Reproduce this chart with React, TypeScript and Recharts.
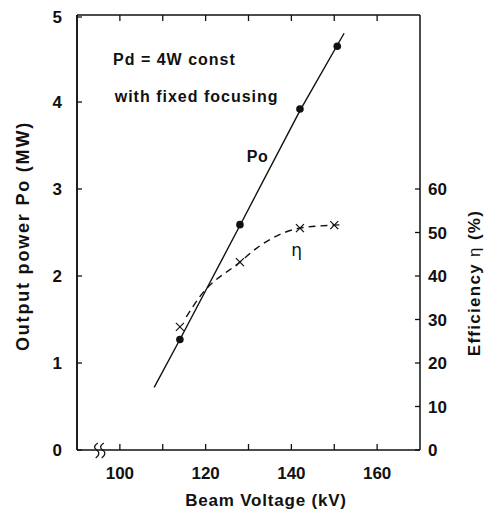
import React from 'react';
import { ComposedChart, XAxis, YAxis, Line, Scatter, ReferenceDot } from 'recharts';

const X_MIN = 90;
const X_MAX = 170;
const P_MAX = 5;
const xTicks = [100, 110, 120, 130, 140, 150, 160];
const xLabelTicks = [100, 120, 140, 160];
const powerTicks = [0, 1, 2, 3, 4, 5];
const effTicks = [0, 10, 20, 30, 40, 50, 60];

// Measured output power Po (MW)
const poPoints = [
  { x: 114, y: 1.27 },
  { x: 128, y: 2.59 },
  { x: 142, y: 3.92 },
  { x: 150.7, y: 4.64 },
];
// Drawn Po line
const poLine = [
  { x: 108, y: 0.72 },
  { x: 114, y: 1.27 },
  { x: 128, y: 2.58 },
  { x: 142, y: 3.9 },
  { x: 152.3, y: 4.79 },
];
// Measured efficiency (%)
const effPoints = [
  { x: 114, y: 28.3 },
  { x: 128, y: 43.2 },
  { x: 142, y: 51.0 },
  { x: 150, y: 51.7 },
];
// Dashed efficiency curve
const effCurve = [
  { x: 115.5, y: 30.6 },
  { x: 118.6, y: 35.2 },
  { x: 128, y: 43.2 },
  { x: 132.6, y: 46.9 },
  { x: 142, y: 51.0 },
  { x: 150, y: 51.7 },
  { x: 152, y: 51.8 },
];

const FONT = '"Liberation Sans", Arial, Helvetica, sans-serif';
const INK = '#111';
const W = 485;
const H = 502;

const BottomTick = (p: any) => {
  const v = p.payload.value;
  return (
    <g>
      <line x1={p.x} y1={p.y} x2={p.x} y2={p.y - 6} stroke={INK} strokeWidth={1.3} />
      {xLabelTicks.includes(v) && (
        <text x={p.x} y={p.y + 29} textAnchor="middle" fontFamily={FONT} fontWeight="bold" fontSize={17} fill={INK}>
          {v}
        </text>
      )}
    </g>
  );
};

const LeftTickText = (p: any) => (
  <text x={p.x - 15} y={p.y + 6} textAnchor="end" fontFamily={FONT} fontWeight="bold" fontSize={17} fill={INK}>
    {p.payload.value}
  </text>
);

const LeftTickLine = (p: any) => (
  <line x1={p.x} y1={p.y} x2={p.x + 5} y2={p.y} stroke={INK} strokeWidth={1.3} />
);

const TopTickLine = (p: any) => (
  <line x1={p.x} y1={p.y} x2={p.x} y2={p.y + 6} stroke={INK} strokeWidth={1.3} />
);

const RightTick = (p: any) => (
  <g>
    <line x1={p.x} y1={p.y} x2={p.x - 5} y2={p.y} stroke={INK} strokeWidth={1.3} />
    <text x={p.x + 8} y={p.y + 6} textAnchor="start" fontFamily={FONT} fontWeight="bold" fontSize={17} fill={INK}>
      {p.payload.value}
    </text>
  </g>
);

const XShape = (p: any) => {
  const { cx, cy } = p;
  const s = 4;
  return (
    <g stroke={INK} strokeWidth={1.2}>
      <line x1={cx - s} y1={cy - s} x2={cx + s} y2={cy + s} />
      <line x1={cx - s} y1={cy + s} x2={cx + s} y2={cy - s} />
    </g>
  );
};

const DotShape = (p: any) => <circle cx={p.cx} cy={p.cy} r={3.8} fill={INK} />;

const Squiggle = (p: any) => {
  const { cx, cy } = p;
  return (
    <path
      d={`M${cx + 1},${cy - 7} C${cx - 3},${cy - 4} ${cx - 3},${cy - 2} ${cx},${cy} C${cx + 3},${cy + 2} ${cx + 3},${cy + 5} ${cx - 1},${cy + 8}`}
      stroke={INK}
      strokeWidth={1.3}
      fill="none"
    />
  );
};

const annot =
  (text: string, opts: { anchor?: string; bold?: boolean; size?: number; spacing?: number; family?: string }) =>
  (props: any) => {
    const vb = props.viewBox || {};
    const x = (vb.x ?? 0) + (vb.width ?? 0) / 2;
    const y = (vb.y ?? 0) + (vb.height ?? 0) / 2;
    return (
      <text
        x={x}
        y={y}
        dominantBaseline="central"
        textAnchor={opts.anchor || 'start'}
        fontFamily={opts.family || FONT}
        fontWeight={opts.bold === false ? 'normal' : 'bold'}
        fontSize={opts.size || 16}
        letterSpacing={opts.spacing || 0}
        fill={INK}
      >
        {text}
      </text>
    );
  };

const LeftTitle = () => {
  const cx = 15;
  const cy = 228;
  return (
    <text
      x={cx}
      y={cy}
      transform={`rotate(-90, ${cx}, ${cy})`}
      textAnchor="middle"
      dominantBaseline="central"
      fontFamily={FONT}
      fontWeight="bold"
      fontSize={18}
      letterSpacing={1.8}
      fill={INK}
    >
      Output power Po (MW)
    </text>
  );
};

const RightTitle = (props: any) => {
  const vb = props.viewBox || {};
  const cx = (vb.x ?? 0) + 54;
  const cy = 275;
  return (
    <text
      x={cx}
      y={cy}
      transform={`rotate(-90, ${cx}, ${cy})`}
      textAnchor="middle"
      dominantBaseline="central"
      fontFamily={FONT}
      fontWeight="bold"
      fontSize={17}
      letterSpacing={1.3}
      fill={INK}
    >
      Efficiency <tspan fontWeight="normal">η</tspan> (%)
    </text>
  );
};

const BottomTitle = (props: any) => {
  const vb = props.viewBox || {};
  const cx = 258;
  const cy = (vb.y ?? 0) + 50;
  return (
    <text
      x={cx}
      y={cy}
      textAnchor="middle"
      dominantBaseline="central"
      fontFamily={FONT}
      fontWeight="bold"
      fontSize={17}
      letterSpacing={0.8}
      fill={INK}
    >
      Beam Voltage (kV)
    </text>
  );
};

function MainChart() {
  return (
    <ComposedChart width={W} height={H} margin={{ top: 7, right: 0, bottom: 0, left: 0 }}>
      <XAxis
        xAxisId="b"
        type="number"
        dataKey="x"
        domain={[X_MIN, X_MAX]}
        ticks={xTicks}
        height={60}
        tickSize={0}
        tickMargin={0}
        tickLine={false}
        tick={BottomTick}
        axisLine={{ stroke: INK, strokeWidth: 1.5 }}
        label={{ content: BottomTitle }}
      />
      <YAxis
        yAxisId="l"
        type="number"
        dataKey="y"
        domain={[0, P_MAX]}
        ticks={powerTicks}
        width={69}
        tickSize={0}
        tickMargin={0}
        tickLine={false}
        tick={LeftTickText}
        axisLine={{ stroke: INK, strokeWidth: 1.5 }}
        label={{ content: LeftTitle }}
      />
      <YAxis
        yAxisId="r"
        orientation="right"
        type="number"
        dataKey="y"
        domain={[0, 100]}
        ticks={effTicks}
        width={73}
        tickSize={0}
        tickMargin={0}
        tickLine={false}
        tick={RightTick}
        axisLine={{ stroke: INK, strokeWidth: 1.5 }}
        label={{ content: RightTitle }}
      />

      <Line
        xAxisId="b"
        yAxisId="l"
        data={poLine}
        dataKey="y"
        type="linear"
        stroke={INK}
        strokeWidth={1.4}
        dot={false}
        activeDot={false}
        isAnimationActive={false}
      />
      <Line
        xAxisId="b"
        yAxisId="r"
        data={effCurve}
        dataKey="y"
        type="monotone"
        stroke={INK}
        strokeWidth={1.4}
        strokeDasharray="7 5"
        dot={false}
        activeDot={false}
        isAnimationActive={false}
      />
      <Scatter xAxisId="b" yAxisId="l" data={poPoints} dataKey="y" shape={DotShape} isAnimationActive={false} />
      <Scatter xAxisId="b" yAxisId="r" data={effPoints} dataKey="y" shape={XShape} isAnimationActive={false} />

      <ReferenceDot xAxisId="b" yAxisId="l" x={94.6} y={0} r={1} shape={Squiggle} ifOverflow="visible" />
      <ReferenceDot xAxisId="b" yAxisId="l" x={96.0} y={0} r={1} shape={Squiggle} ifOverflow="visible" />

      <ReferenceDot xAxisId="b" yAxisId="l" x={98.4} y={4.49} r={1} fill="none" stroke="none"
        label={{ content: annot('Pd = 4W const', { spacing: 1 }) }} />
      <ReferenceDot xAxisId="b" yAxisId="l" x={98.8} y={4.06} r={1} fill="none" stroke="none"
        label={{ content: annot('with fixed focusing', { spacing: 1 }) }} />
      <ReferenceDot xAxisId="b" yAxisId="l" x={132.1} y={3.37} r={1} fill="none" stroke="none"
        label={{ content: annot('Po', { anchor: 'middle', spacing: 0.5 }) }} />
      <ReferenceDot xAxisId="b" yAxisId="l" x={141.2} y={2.3} r={1} fill="none" stroke="none"
        label={{ content: annot('η', { anchor: 'middle', bold: false, size: 17, family: '"DejaVu Sans", sans-serif' }) }} />
    </ComposedChart>
  );
}

// Second, transparent chart with the same plot area: draws the left and top borders with their inward ticks
function FrameChart() {
  return (
    <ComposedChart width={W} height={H} margin={{ top: 6, right: 73, bottom: 60, left: 0 }}>
      <XAxis
        xAxisId="t"
        orientation="top"
        type="number"
        dataKey="x"
        domain={[X_MIN, X_MAX]}
        ticks={xTicks}
        height={1}
        tickSize={0}
        tickMargin={0}
        tickLine={false}
        tick={TopTickLine}
        axisLine={{ stroke: INK, strokeWidth: 1.5 }}
      />
      <YAxis
        yAxisId="l"
        type="number"
        dataKey="y"
        domain={[0, P_MAX]}
        ticks={powerTicks}
        width={69}
        tickSize={0}
        tickMargin={0}
        tickLine={false}
        tick={LeftTickLine}
        axisLine={{ stroke: INK, strokeWidth: 1.5 }}
      />
      <Line
        xAxisId="t"
        yAxisId="l"
        data={poLine}
        dataKey="y"
        stroke="none"
        dot={false}
        activeDot={false}
        isAnimationActive={false}
      />
    </ComposedChart>
  );
}

export default function App() {
  return (
    <div style={{ position: 'relative', width: W, height: H }}>
      <div style={{ position: 'absolute', left: 0, top: 0 }}>
        <MainChart />
      </div>
      <div style={{ position: 'absolute', left: 0, top: 0, pointerEvents: 'none' }}>
        <FrameChart />
      </div>
    </div>
  );
}
